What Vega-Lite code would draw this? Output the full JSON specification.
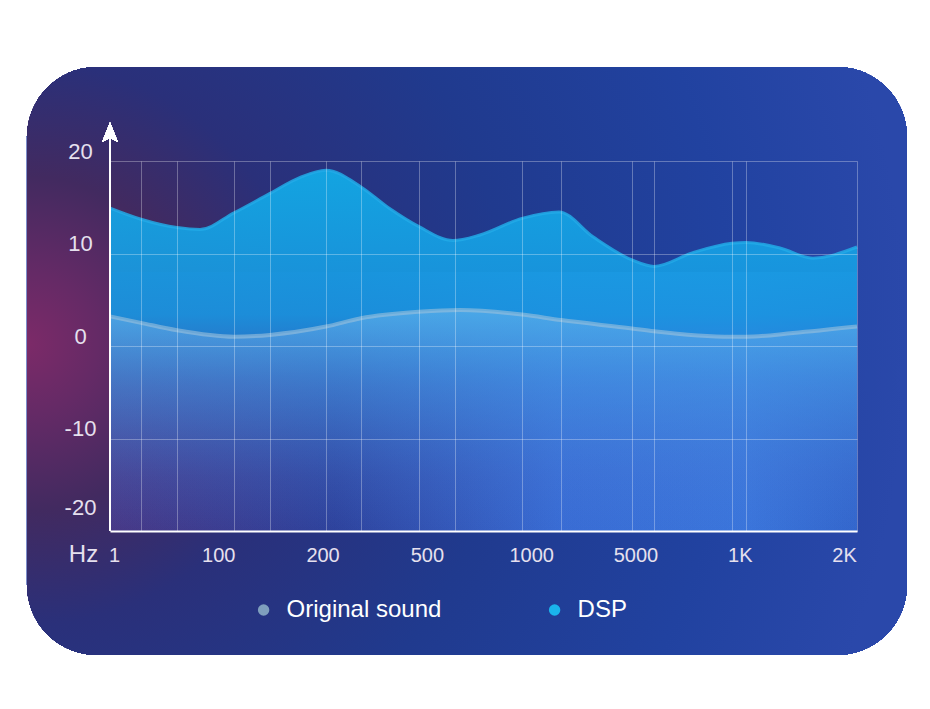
{
  "$schema": "https://vega.github.io/schema/vega-lite/v6.json",
  "width": 747,
  "height": 370,
  "autosize": {"type": "none"},
  "padding": {"left": 110, "top": 161, "right": 73, "bottom": 178},
  "background": "#ffffff",
  "config": {"view": {"stroke": null}, "font": "Liberation Sans"},
  "data": {"values": [
    {"series": "DSP", "u": -0.038, "db": 14.9},
    {"series": "DSP", "u": 0.259, "db": 13.7},
    {"series": "DSP", "u": 0.604, "db": 12.8},
    {"series": "DSP", "u": 0.825, "db": 12.6},
    {"series": "DSP", "u": 1.151, "db": 14.4},
    {"series": "DSP", "u": 1.496, "db": 16.5},
    {"series": "DSP", "u": 1.78, "db": 18.2},
    {"series": "DSP", "u": 2.033, "db": 19.0},
    {"series": "DSP", "u": 2.368, "db": 17.2},
    {"series": "DSP", "u": 2.65, "db": 14.8},
    {"series": "DSP", "u": 2.924, "db": 12.9},
    {"series": "DSP", "u": 3.25, "db": 11.4},
    {"series": "DSP", "u": 3.509, "db": 12.0},
    {"series": "DSP", "u": 3.912, "db": 13.8},
    {"series": "DSP", "u": 4.267, "db": 14.5},
    {"series": "DSP", "u": 4.593, "db": 11.8},
    {"series": "DSP", "u": 4.966, "db": 9.3},
    {"series": "DSP", "u": 5.177, "db": 8.6},
    {"series": "DSP", "u": 5.551, "db": 10.1},
    {"series": "DSP", "u": 5.925, "db": 11.1},
    {"series": "DSP", "u": 6.059, "db": 11.2},
    {"series": "DSP", "u": 6.385, "db": 10.6},
    {"series": "DSP", "u": 6.702, "db": 9.5},
    {"series": "DSP", "u": 7.124, "db": 10.7},
    {"series": "Original sound", "u": -0.038, "db": 3.2},
    {"series": "Original sound", "u": 0.259, "db": 2.5},
    {"series": "Original sound", "u": 0.604, "db": 1.7},
    {"series": "Original sound", "u": 1.151, "db": 1.0},
    {"series": "Original sound", "u": 1.496, "db": 1.2},
    {"series": "Original sound", "u": 2.033, "db": 2.1},
    {"series": "Original sound", "u": 2.368, "db": 3.0},
    {"series": "Original sound", "u": 2.924, "db": 3.7},
    {"series": "Original sound", "u": 3.317, "db": 3.9},
    {"series": "Original sound", "u": 3.912, "db": 3.4},
    {"series": "Original sound", "u": 4.286, "db": 2.8},
    {"series": "Original sound", "u": 4.966, "db": 1.9},
    {"series": "Original sound", "u": 5.177, "db": 1.6},
    {"series": "Original sound", "u": 5.925, "db": 1.0},
    {"series": "Original sound", "u": 6.059, "db": 1.0},
    {"series": "Original sound", "u": 6.51, "db": 1.4},
    {"series": "Original sound", "u": 7.124, "db": 2.1}
  ]},
  "resolve": {"axis": {"x": "independent"}},
  "layer": [
    {
      "mark": {"type": "rect", "cornerRadius": 70, "clip": false,
        "fill": {"gradient": "radial", "x1": 0, "y1": 0.48, "r1": 0, "x2": 0, "y2": 0.48, "r2": 1, "stops": [
          {"offset": 0, "color": "#7c2a68"},
          {"offset": 0.08, "color": "#652a66"},
          {"offset": 0.19, "color": "#422a60"},
          {"offset": 0.32, "color": "#2a307a"},
          {"offset": 0.55, "color": "#203a8e"},
          {"offset": 0.8, "color": "#2142a0"},
          {"offset": 1, "color": "#2a48aa"}
        ]}},
      "encoding": {
        "x": {"datum": -0.834, "type": "quantitative", "scale": {"domain": [-0.038, 7.124], "nice": false, "zero": false}, "axis": null},
        "x2": {"datum": 7.603},
        "y": {"datum": 30.16, "type": "quantitative", "scale": {"domain": [-20, 20], "nice": false, "zero": false},
          "axis": {"values": [-20, -10, 0, 10, 20], "grid": true, "gridColor": "#ffffff", "gridOpacity": 0.3,
            "domain": false, "ticks": false, "tickSize": 0, "labelPadding": 30, "labelAlign": "center",
            "labelExpr": "'' + datum.value",
            "labelColor": "#e6e0ee", "labelFontSize": 22, "labelFont": "Liberation Sans", "labelBaseline": "middle",
            "labelOffset": {"condition": {"test": "datum.value === -20", "value": -24}, "value": -10},
            "title": null, "zindex": 1}},
        "y2": {"datum": -33.41}
      }
    },
    {
      "mark": {"type": "rect", "opacity": 0.7,
        "fill": {"gradient": "linear", "x1": 0, "y1": 0, "x2": 1, "y2": 0, "stops": [
          {"offset": 0, "color": "#4a3480"},
          {"offset": 0.3, "color": "#2e3f98"},
          {"offset": 0.6, "color": "#3a6cd4"},
          {"offset": 0.85, "color": "#3c76dc"},
          {"offset": 1, "color": "#3466cc"}
        ]}},
      "encoding": {
        "x": {"datum": -0.038, "type": "quantitative", "axis": null},
        "x2": {"datum": 7.124},
        "y": {"datum": 8, "type": "quantitative"},
        "y2": {"datum": -20}
      }
    },
    {
      "transform": [{"filter": "datum.series === 'DSP'"}],
      "mark": {"type": "area", "interpolate": "monotone",
        "fill": {"gradient": "linear", "x1": 0, "y1": 0, "x2": 0, "y2": 1, "stops": [
          {"offset": 0, "color": "rgba(18,170,230,0.95)"},
          {"offset": 0.4, "color": "rgba(25,150,225,0.9)"},
          {"offset": 0.6, "color": "rgba(40,130,220,0.55)"},
          {"offset": 0.85, "color": "rgba(50,110,210,0.2)"},
          {"offset": 1, "color": "rgba(50,110,210,0.08)"}
        ]}},
      "encoding": {
        "x": {"field": "u", "type": "quantitative",
          "axis": {"values": [0, 1, 2, 3, 4, 5, 6, 7],
            "labelExpr": "['1','100','200','500','1000','5000','1K','2K'][datum.value]",
            "grid": false, "ticks": false, "tickSize": 0, "domain": true, "domainColor": "#ffffff", "domainWidth": 2,
            "labelColor": "#e6e0ee", "labelFontSize": 20, "labelPadding": 14, "labelFont": "Liberation Sans",
            "title": "Hz", "titleX": -27, "titleY": 30, "titleAlign": "center", "titleBaseline": "alphabetic",
            "titleFontSize": 24, "titleFontWeight": "normal", "titleColor": "#e6e0ee", "titleFont": "Liberation Sans",
            "zindex": 1}},
        "y": {"field": "db", "type": "quantitative"},
        "y2": {"datum": -20}
      }
    },
    {
      "transform": [{"filter": "datum.series === 'Original sound'"}],
      "mark": {"type": "area", "interpolate": "monotone",
        "fill": {"gradient": "linear", "x1": 0, "y1": 0, "x2": 0, "y2": 1, "stops": [
          {"offset": 0, "color": "rgba(145,200,245,0.4)"},
          {"offset": 0.3, "color": "rgba(120,180,240,0.25)"},
          {"offset": 1, "color": "rgba(100,150,230,0)"}
        ]}},
      "encoding": {
        "x": {"field": "u", "type": "quantitative",
          "axis": {"orient": "top", "values": [0.259, 0.604, 1.151, 1.496, 2.033, 2.368, 2.924, 3.269, 3.912, 4.286, 4.966, 5.177, 5.925, 6.059, 7.124],
            "grid": true, "gridColor": "#ffffff", "gridOpacity": 0.3, "labels": false, "ticks": false, "domain": false,
            "title": null, "zindex": 1}},
        "y": {"field": "db", "type": "quantitative"},
        "y2": {"datum": -20}
      }
    },
    {
      "transform": [{"filter": "datum.series === 'Original sound'"}],
      "mark": {"type": "line", "interpolate": "monotone", "stroke": "#9cc2dc", "strokeWidth": 4, "opacity": 0.6},
      "encoding": {
        "x": {"field": "u", "type": "quantitative", "axis": null},
        "y": {"field": "db", "type": "quantitative"}
      }
    },
    {
      "transform": [{"filter": "datum.series === 'DSP'"}],
      "mark": {"type": "line", "interpolate": "monotone", "stroke": "#22aae8", "strokeWidth": 3, "opacity": 0.85},
      "encoding": {
        "x": {"field": "u", "type": "quantitative", "axis": null},
        "y": {"field": "db", "type": "quantitative"}
      }
    },
    {
      "mark": {"type": "rule", "color": "#ffffff", "strokeWidth": 2, "clip": false},
      "encoding": {
        "x": {"datum": -0.038, "type": "quantitative", "axis": null},
        "y": {"datum": -20, "type": "quantitative"},
        "y2": {"datum": 22.6}
      }
    },
    {
      "mark": {"type": "point", "filled": true, "fill": "#ffffff", "opacity": 1, "strokeWidth": 0, "clip": false,
        "shape": "M0,-1L0.8,1L0,0.55L-0.8,1Z", "size": 380},
      "encoding": {
        "x": {"datum": -0.038, "type": "quantitative", "axis": null},
        "y": {"datum": 23.1, "type": "quantitative"}
      }
    },
    {
      "transform": [{"filter": "false"}],
      "mark": {"type": "point", "filled": true, "opacity": 1},
      "encoding": {
        "color": {"field": "series", "type": "nominal",
          "scale": {"domain": ["Original sound", "DSP"], "range": ["#7f9fbd", "#1ab4ec"]},
          "legend": {"orient": "none", "legendX": 141.6, "legendY": 437, "direction": "horizontal", "title": null,
            "padding": 0, "symbolType": "circle", "symbolSize": 130, "symbolStrokeWidth": 0, "symbolOpacity": 1,
            "labelFontSize": 24, "labelColor": "#ffffff", "labelFont": "Liberation Sans", "labelOffset": 11,
            "columnPadding": 101, "labelLimit": 400}}
      }
    }
  ]
}
